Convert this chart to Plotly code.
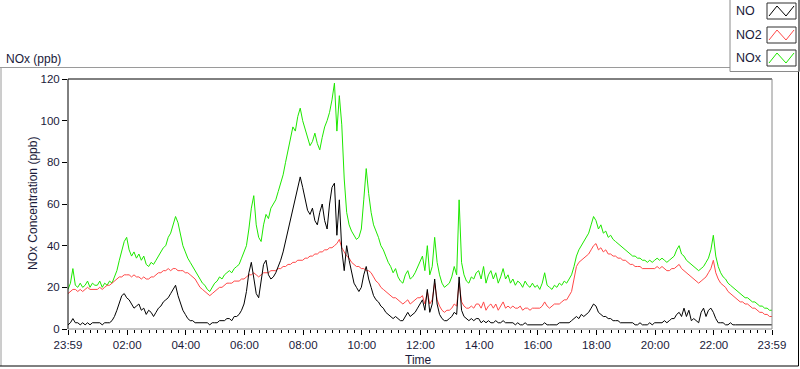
import plotly.graph_objects as go

# ---------------- data (5-minute samples, minutes after 23:59) ----------------
minutes = list(range(0, 1441, 5))

nox = [
    19, 22, 29, 21, 20, 22, 20, 21, 23, 20, 22, 21,
    21, 23, 20, 22, 21, 23, 22, 25, 28, 33, 38, 42,
    44, 38, 35, 37, 34, 36, 33, 35, 31, 30, 32, 31,
    33, 35, 37, 39, 40, 44, 46, 50, 54, 51, 45, 40,
    37, 34, 32, 30, 28, 26, 24, 22, 21, 19, 18, 20,
    22, 23, 25, 24, 26, 27, 28, 27, 29, 30, 31, 34,
    37, 40, 48, 58, 64, 50, 44, 42, 50, 55, 53, 58,
    60, 62, 66, 70, 74, 80, 86, 92, 97, 95, 102, 106,
    100, 96, 92, 88, 90, 94, 89, 86, 92, 97, 100, 104,
    110, 118, 95, 112, 98, 72, 56, 50, 47, 45, 43, 44,
    48, 62, 77, 65, 56, 50, 47, 44, 40, 38, 35, 32,
    30, 27, 29, 25, 23, 22, 26, 28, 24, 25, 27, 30,
    32, 35, 28, 40, 26, 30, 44, 32, 26, 22, 20, 21,
    22, 25, 30, 26, 62, 32, 26, 23, 22, 25, 24, 27,
    28, 24, 30, 22, 26, 28, 24, 27, 22, 25, 29, 24,
    26, 22, 24, 21, 23, 22, 20, 23, 21, 20, 22, 20,
    21, 19, 22, 27, 21, 20, 19, 21, 20, 22, 21, 23,
    22, 24, 26, 30, 35, 38, 40, 42, 44, 46, 50, 54,
    52, 48, 50, 46, 47, 44, 45, 43, 42, 41, 40, 39,
    38, 37, 36, 35, 35, 34, 34, 33, 33, 32, 33, 32,
    33, 34, 33, 34, 33, 32, 33, 34, 35, 38, 40, 36,
    35, 33, 32, 31, 30, 29, 28, 29, 30, 32, 34, 38,
    45, 35, 30, 27, 25, 24, 22, 21, 20, 19, 18, 17,
    16, 15, 15, 14, 13, 13, 12, 11, 11, 10, 10, 9, 9,
]

no2 = [
    17, 18, 19, 19, 18, 19, 18, 19, 20, 19, 19, 19,
    19, 20, 19, 20, 21, 21, 22, 23, 24, 25, 25, 26,
    26, 26, 25, 26, 25, 25, 24, 25, 24, 24, 25, 25,
    26, 27, 27, 28, 28, 29, 28, 29, 29, 28, 28, 28,
    27, 27, 26, 25, 24, 22, 20, 19, 18, 17, 16, 17,
    18, 19, 20, 20, 21, 22, 22, 22, 23, 23, 23, 24,
    24, 25, 26, 26, 27, 26, 25, 26, 27, 27, 27, 28,
    28, 28, 29, 29, 30, 30, 31, 31, 32, 32, 33, 33,
    33, 34, 34, 35, 35, 36, 36, 37, 37, 38, 38, 39,
    39, 40, 41, 43, 39, 37, 35, 34, 32, 31, 30, 30,
    29, 29, 28, 28, 27, 25, 23, 22, 20, 19, 18, 17,
    16, 15, 15, 14, 13, 12, 13, 14, 12, 13, 14, 15,
    15, 16, 12, 18, 12, 14, 22, 14, 11, 9, 8, 9,
    9, 10, 12, 11, 22, 13, 11, 10, 10, 11, 10, 12,
    12, 10, 13, 9, 11, 12, 10, 12, 9, 11, 13, 10,
    11, 10, 11, 10, 10, 11, 9, 10, 10, 9, 10, 10,
    10, 10, 11, 13, 11, 10, 11, 12, 12, 12, 13, 14,
    14, 16, 18, 24, 30, 32, 33, 34, 35, 36, 38, 40,
    41, 38, 39, 37, 38, 36, 36, 35, 35, 34, 34, 33,
    33, 32, 31, 31, 30, 30, 30, 29, 29, 29, 29, 29,
    29, 30, 29, 30, 29, 28, 28, 29, 29, 30, 31, 29,
    28, 27, 26, 25, 24, 23, 22, 23, 24, 25, 27, 29,
    33, 27, 24, 22, 21, 20, 18, 17, 16, 15, 14, 13,
    13, 12, 12, 11, 10, 10, 9, 8, 8, 7, 7, 6, 6,
]

no = [
    2, 3, 5, 3, 3, 2, 3, 2, 3, 2, 3, 3,
    3, 3, 2, 3, 3, 3, 4, 6, 9, 13, 16, 17,
    15, 14, 12, 10, 11, 12, 9, 10, 7, 9, 8, 6,
    8, 10, 11, 13, 14, 15, 17, 19, 21, 16, 12, 9,
    7, 5, 4, 4, 3, 3, 3, 3, 3, 3, 2, 3,
    3, 3, 4, 4, 4, 5, 5, 4, 6, 6, 7, 9,
    12, 18, 27, 32, 25, 17, 15, 22, 31, 33, 26, 24,
    25, 27, 30, 33, 37, 42, 48, 52, 58, 62, 68, 73,
    68, 63, 57, 55, 58, 52, 50, 56, 60, 52, 48, 60,
    68, 70, 45, 62, 38, 28, 40, 33, 28, 22, 20, 18,
    20, 26, 30, 24, 20, 16, 14, 13, 11, 10, 8, 7,
    6, 5, 6, 5, 4, 4, 6, 8, 6, 7, 8, 10,
    12, 14, 9, 19, 8, 12, 24, 12, 7, 5, 4, 4,
    5, 6, 8, 7, 25, 9, 6, 5, 4, 5, 4, 5,
    5, 3, 4, 3, 4, 3, 3, 4, 3, 3, 4, 3,
    3, 3, 3, 2, 3, 2, 2, 3, 2, 2, 2, 2,
    2, 2, 2, 3, 2, 2, 2, 2, 2, 3, 3, 3,
    3, 3, 4, 5, 6, 5, 7, 6, 7, 8, 10, 12,
    11, 8, 7, 6, 6, 5, 5, 4, 4, 4, 3, 3,
    3, 3, 3, 3, 2, 2, 3, 2, 2, 2, 3, 2,
    3, 3, 3, 3, 4, 3, 4, 5, 5, 7, 8, 6,
    10, 6, 9, 4, 5, 4, 3, 8, 10, 6, 9, 10,
    8, 5, 3, 3, 3, 2, 2, 3, 2, 2, 2, 2,
    2, 2, 2, 2, 2, 2, 2, 2, 2, 2, 2, 2, 2,
]

tick_minutes = [0, 121, 241, 361, 481, 601, 721, 841, 961, 1081, 1201, 1321, 1440]
tick_labels = ["23:59", "02:00", "04:00", "06:00", "08:00", "10:00", "12:00",
               "14:00", "16:00", "18:00", "20:00", "22:00", "23:59"]
minor_ticks = [m for m in range(1, 1441, 15) if m not in tick_minutes]
y_ticks = [0, 20, 40, 60, 80, 100, 120]

series_names = ["NOx", "NO2", "NO"]
series_colors = ["#1ee800", "#ff4848", "#000000"]

# ---------------- layout geometry ----------------
W, H = 800, 369
L, R, T, B = 68, 28, 79, 40
PW, PH = W - L - R, H - T - B


def px(x):
    return (x - L) / PW


def py(y):
    return (H - B - y) / PH


TXT = "#1a1a3a"
FONT = "Liberation Sans"

fig = go.Figure()
for name, vals, col in zip(series_names, [nox, no2, no], series_colors):
    fig.add_trace(go.Scatter(x=minutes, y=vals, mode="lines", name=name,
                             line=dict(color=col, width=1), showlegend=False,
                             hoverinfo="skip"))

shapes = []


def line(x0, y0, x1, y1, color, width=1):
    shapes.append(dict(type="line", xref="paper", yref="paper",
                       x0=px(x0), y0=py(y0), x1=px(x1), y1=py(y1),
                       line=dict(color=color, width=width)))


# outer panel
line(0, 67.5, 730, 67.5, "#9a9a9a")
line(1, 67.5, 1, 366, "#9a9a9a")
line(0, 366, 798.5, 366, "#000000")
line(798.5, 71, 798.5, 366, "#000000")
# legend box
line(730, 0, 730, 71.5, "#8a8a8a")
line(730, 71.5, 799, 71.5, "#8a8a8a")
line(799, 0, 799, 71.5, "#000000")
# plot frame
line(L, T, W - R, T, "#000000")
line(L, T, L, H - B, "#000000")
line(W - R, T, W - R, H - B, "#8a8a8a")
line(L, H - B, W - R, H - B, "#8a8a8a")

# legend sample boxes with zigzags
rows = [(3, 19), (27, 43), (50, 66)]
leg_colors = ["#000000", "#ff4848", "#1ee800"]
leg_names = ["NO", "NO2", "NOx"]
annotations = []
for (y0, y1), col, nm in zip(rows, leg_colors, leg_names):
    shapes.append(dict(type="rect", xref="paper", yref="paper",
                       x0=px(767), x1=px(796), y0=py(y0), y1=py(y1),
                       line=dict(color="#303030", width=1), fillcolor="white"))
    pts = [(769, y1 - 3), (777, y0 + 3), (786, y1 - 3), (794, y0 + 3)]
    path = "M " + " L ".join(f"{px(a)},{py(b)}" for a, b in pts)
    shapes.append(dict(type="path", xref="paper", yref="paper", path=path,
                       line=dict(color=col, width=1)))
    annotations.append(dict(text=nm, xref="paper", yref="paper",
                            x=px(734), y=py((y0 + y1) / 2), xanchor="left",
                            yanchor="middle", showarrow=False,
                            font=dict(family=FONT, size=12.5, color=TXT)))

annotations += [
    dict(text="NOx (ppb)", xref="paper", yref="paper", x=px(4), y=py(59),
         xanchor="left", yanchor="middle", showarrow=False,
         font=dict(family=FONT, size=12, color=TXT)),
    dict(text="NOx Concentration (ppb)", xref="paper", yref="paper",
         x=px(33), y=py(204), xanchor="center", yanchor="middle",
         textangle=-90, showarrow=False,
         font=dict(family=FONT, size=12, color=TXT)),
    dict(text="Time", xref="paper", yref="paper", x=px(418), y=py(360),
         xanchor="center", yanchor="middle", showarrow=False,
         font=dict(family=FONT, size=12, color=TXT)),
]

fig.update_layout(
    width=W, height=H,
    margin=dict(l=L, r=R, t=T, b=B),
    paper_bgcolor="white", plot_bgcolor="white",
    shapes=shapes, annotations=annotations,
    hovermode=False,
    xaxis=dict(range=[0, 1440], tickmode="array", tickvals=tick_minutes,
               ticktext=tick_labels, ticks="outside", ticklen=5,
               tickcolor="#000000", showgrid=False, zeroline=False,
               showline=False,
               tickfont=dict(family=FONT, size=11.5, color=TXT),
               minor=dict(tickmode="array", tickvals=minor_ticks,
                          ticks="outside", ticklen=3, tickcolor="#000000",
                          showgrid=False)),
    yaxis=dict(range=[0, 120], tickmode="array", tickvals=y_ticks,
               ticks="outside", ticklen=5, tickcolor="#000000",
               showgrid=False, zeroline=False, showline=False,
               tickfont=dict(family=FONT, size=11.5, color=TXT)),
)

fig.write_html("out.html",
               config={"displayModeBar": False, "staticPlot": True},
               post_script="document.body.style.margin='0px';"
                           "document.body.style.padding='0px';"
                           "document.body.style.overflow='hidden';")
